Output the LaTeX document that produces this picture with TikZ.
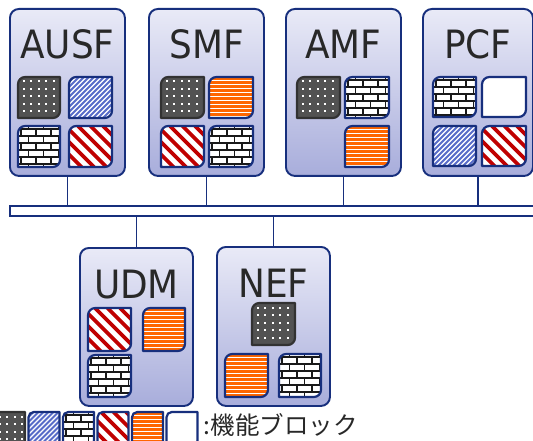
\documentclass[tikz,border=0pt]{standalone}
\usepackage{fontspec}
\newfontfamily\lblfont[FakeStretch=0.92]{DejaVu Sans}
\newfontfamily\jpfont{Noto Sans CJK JP}
\usetikzlibrary{calc}

\definecolor{navy}{RGB}{23,47,125}
\definecolor{dotfill}{RGB}{82,82,82}
\definecolor{dotedge}{RGB}{50,50,50}
\definecolor{bluestripe}{RGB}{88,108,200}
\definecolor{redstripe}{RGB}{192,0,0}
\definecolor{orangestripe}{RGB}{255,102,0}
\definecolor{brickline}{RGB}{25,25,25}
\definecolor{boxtop}{RGB}{233,234,247}
\definecolor{boxbot}{RGB}{168,173,219}
\definecolor{txt}{RGB}{40,40,40}

\tikzset{
  nfbox/.style={draw=navy, line width=1.9, rounded corners=9, top color=boxtop,
    bottom color=boxbot, inner sep=0, anchor=north west},
  nflabel/.style={font=\lblfont\fontsize{39}{41}\selectfont, text=txt, anchor=base, inner sep=0},
  busbar/.style={draw=navy, fill=white, line width=1.8, inner sep=0, anchor=north west},
  wire/.style={draw=navy, line width=1.5},
  cellnode/.style={inner sep=0, outer sep=0, draw=none},
  cellline/.style={line width=2.2, line join=round},
  cell-dots/.style={draw=dotedge},
  cell-blue/.style={draw=navy},
  cell-brick/.style={draw=navy},
  cell-red/.style={draw=navy},
  cell-orange/.style={draw=navy},
  cell-white/.style={draw=navy},
}

% outline of a function block: rounded top-left and bottom-right corners
\newcommand\cellpath[4]{(#1+#3,#2) -- (#1+#3,#2+#4-\R)
  .. controls (#1+#3,#2+#4-0.45*\R) and (#1+#3-0.45*\R,#2+#4) .. (#1+#3-\R,#2+#4)
  -- (#1,#2+#4) -- (#1,#2+\R)
  .. controls (#1,#2+0.45*\R) and (#1+0.45*\R,#2) .. (#1+\R,#2) -- cycle}

% fill patterns, x y w h
\newcommand\patdots[4]{%
  \fill[dotfill] (#1,#2) rectangle (#1+#3,#2+#4);
  \foreach \i in {0,...,6}{\foreach \j in {0,...,6}{
    \fill[white] ({#1+4.5+\i*7.5},{#2+3.5+\j*7.5}) rectangle ++(2,2);}}}
\newcommand\patblue[4]{%
  \fill[white] (#1,#2) rectangle (#1+#3,#2+#4);
  \foreach \k in {0,...,20}{
    \draw[bluestripe, line width=2.1] ({#1-#4+\k*5},{#2+#4}) -- ++(#4,-#4);}}
\newcommand\patred[4]{%
  \fill[white] (#1,#2) rectangle (#1+#3,#2+#4);
  \foreach \k in {0,...,8}{
    \draw[redstripe, line width=3.8] ({#1-#4+\k*12.5},{#2}) -- ++(#4,#4);}}
\newcommand\patorange[4]{%
  \fill[white] (#1,#2) rectangle (#1+#3,#2+#4);
  \foreach \k in {0,...,11}{
    \draw[orangestripe, line width=2.4] (#1,{#2+1.5+\k*4}) -- ++(#3,0);}}
\newcommand\patbrick[4]{%
  \fill[white] (#1,#2) rectangle (#1+#3,#2+#4);
  \foreach \r in {-1,...,6}{
    \draw[brickline, line width=1.7] (#1,{#2+3+7*\r}) -- ++(#3,0);
    \pgfmathsetmacro\off{mod(\r+2,2)*7.5}
    \foreach \k in {0,...,3}{
      \draw[brickline, line width=1.7] ({#1+\off+3+15*\k},{#2+3+7*\r}) -- ++(0,7);}}}
\newcommand\patwhite[4]{\fill[white] (#1,#2) rectangle (#1+#3,#2+#4);}

% function block: name x y w h kind
\newcommand\fblock[6]{%
  \pgfmathsetmacro\R{0.17*#4}
  \node[cellnode, minimum width=#4, minimum height=#5] (#1) at ({#2+#4/2},{#3+#5/2}) {};
  \begin{scope}
    \clip \cellpath{#2}{#3}{#4}{#5};
    \csname pat#6\endcsname{#2}{#3}{#4}{#5}
  \end{scope}
  \draw[cellline, cell-#6] \cellpath{#2}{#3}{#4}{#5};
}

\begin{document}
\begin{tikzpicture}[x=1pt, y=-1pt]
\clip (0,0) rectangle (533,441);
\fill[white] (0,0) rectangle (533,441);

% bus
\node[busbar, minimum width=545, minimum height=10] (bus) at (9,205) {};

% network functions, upper row
\node[nfbox, minimum width=115, minimum height=167] (ausf) at (9,8) {};
\node[nfbox, minimum width=115, minimum height=167] (smf) at (148,8) {};
\node[nfbox, minimum width=115, minimum height=167] (amf) at (285,8) {};
\node[nfbox, minimum width=110, minimum height=167] (pcf) at (422,8) {};
% lower row
\node[nfbox, minimum width=113, minimum height=158] (udm) at (79,247) {};
\node[nfbox, minimum width=113, minimum height=159] (nef) at (216,246) {};

% links to the bus
\draw[wire] (ausf.south) -- (ausf.south |- bus.north);
\draw[wire] (smf.south) -- (smf.south |- bus.north);
\draw[wire] (amf.south) -- (amf.south |- bus.north);
\draw[wire] (pcf.south) -- (pcf.south |- bus.north);
\draw[wire] (udm.north) -- (udm.north |- bus.south);
\draw[wire] (nef.north) -- (nef.north |- bus.south);

% names
\node[nflabel] (ausf-t) at ($(ausf.north)+(0,51)$) {AUSF};
\node[nflabel] (smf-t) at ($(smf.north)+(0,51)$) {SMF};
\node[nflabel] (amf-t) at ($(amf.north)+(0,51)$) {AMF};
\node[nflabel] (pcf-t) at ($(pcf.north)+(0,51)$) {PCF};
\node[nflabel] (udm-t) at ($(udm.north)+(0,51)$) {UDM};
\node[nflabel] (nef-t) at ($(nef.north)+(0,51)$) {NEF};

% function blocks
\fblock{ausf1}{18}{77}{42}{41}{dots}
\fblock{ausf2}{69}{77}{43}{41}{blue}
\fblock{ausf3}{18}{126}{42}{41}{brick}
\fblock{ausf4}{69}{126}{43}{41}{red}

\fblock{smf1}{161}{77}{43}{41}{dots}
\fblock{smf2}{209}{77}{44}{41}{orange}
\fblock{smf3}{161}{126}{43}{41}{red}
\fblock{smf4}{209}{126}{44}{41}{brick}

\fblock{amf1}{297}{77}{43}{41}{dots}
\fblock{amf2}{345}{77}{44}{41}{brick}
\fblock{amf3}{345}{126}{44}{41}{orange}

\fblock{pcf1}{433}{77}{43}{40}{brick}
\fblock{pcf2}{482}{77}{44}{40}{white}
\fblock{pcf3}{433}{126}{43}{40}{blue}
\fblock{pcf4}{482}{126}{44}{40}{red}

\fblock{udm1}{88}{308}{43}{43}{red}
\fblock{udm2}{143}{308}{42}{43}{orange}
\fblock{udm3}{88}{355}{43}{42}{brick}

\fblock{nef1}{252}{303}{43}{42}{dots}
\fblock{nef2}{225}{354}{43}{43}{orange}
\fblock{nef3}{279}{354}{42}{43}{brick}

% legend
\fblock{key1}{-6}{412}{31}{34}{dots}
\fblock{key2}{28.5}{412}{31}{34}{blue}
\fblock{key3}{63}{412}{31}{34}{brick}
\fblock{key4}{97.5}{412}{31}{34}{red}
\fblock{key5}{132}{412}{31}{34}{orange}
\fblock{key6}{166.5}{412}{31}{34}{white}
\node[font=\jpfont\fontsize{24.5}{26}\selectfont, text=txt, anchor=base west, inner sep=0]
  (keytext) at (203,434) {:\hspace{1pt}機能ブロック};
\end{tikzpicture}
\end{document}
